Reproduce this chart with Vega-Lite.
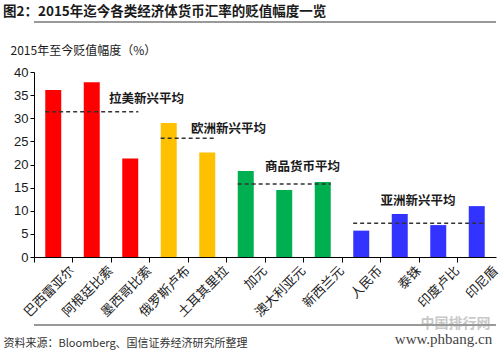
{
  "$schema": "https://vega.github.io/schema/vega-lite/v6.json",
  "width": 462,
  "height": 185,
  "autosize": {"type": "none"},
  "padding": {"left": 34, "top": 72, "right": 4, "bottom": 96},
  "background": "white",
  "title": {
    "text": "图2：2015年迄今各类经济体货币汇率的贬值幅度一览",
    "anchor": "start",
    "frame": "group",
    "dx": -31,
    "offset": 3,
    "font": "Noto Sans CJK SC",
    "fontSize": 13.5,
    "fontWeight": "bold",
    "color": "#1a1a1a"
  },
  "datasets": {
    "currencies": [
      {"name": "巴西雷亚尔", "value": 36.1, "group": "拉美新兴"},
      {"name": "阿根廷比索", "value": 37.8, "group": "拉美新兴"},
      {"name": "墨西哥比索", "value": 21.3, "group": "拉美新兴"},
      {"name": "俄罗斯卢布", "value": 29.0, "group": "欧洲新兴"},
      {"name": "土耳其里拉", "value": 22.6, "group": "欧洲新兴"},
      {"name": "加元", "value": 18.6, "group": "商品货币"},
      {"name": "澳大利亚元", "value": 14.5, "group": "商品货币"},
      {"name": "新西兰元", "value": 16.2, "group": "商品货币"},
      {"name": "人民币", "value": 5.7, "group": "亚洲新兴"},
      {"name": "泰铢", "value": 9.3, "group": "亚洲新兴"},
      {"name": "印度卢比", "value": 6.9, "group": "亚洲新兴"},
      {"name": "印尼盾", "value": 11.0, "group": "亚洲新兴"}
    ],
    "averages": [
      {"group": "拉美新兴", "label": "拉美新兴平均", "start": "巴西雷亚尔", "end": "墨西哥比索", "avg": 31.4, "label_at": "墨西哥比索"},
      {"group": "欧洲新兴", "label": "欧洲新兴平均", "start": "俄罗斯卢布", "end": "土耳其里拉", "avg": 25.7, "label_at": "土耳其里拉"},
      {"group": "商品货币", "label": "商品货币平均", "start": "加元", "end": "新西兰元", "avg": 15.8, "label_at": "澳大利亚元"},
      {"group": "亚洲新兴", "label": "亚洲新兴平均", "start": "人民币", "end": "印尼盾", "avg": 7.3, "label_at": "泰铢"}
    ],
    "separators": [
      {"where": "title underline", "y": 50.8},
      {"where": "footer line", "y": -14.7}
    ]
  },
  "layer": [
    {
      "data": {"name": "currencies"},
      "mark": {"type": "bar", "width": {"band": 0.415}},
      "encoding": {
        "x": {
          "field": "name",
          "type": "nominal",
          "sort": null,
          "scale": {
            "domain": ["巴西雷亚尔", "阿根廷比索", "墨西哥比索", "俄罗斯卢布", "土耳其里拉", "加元", "澳大利亚元", "新西兰元", "人民币", "泰铢", "印度卢比", "印尼盾"],
            "paddingInner": 0,
            "paddingOuter": 0
          },
          "axis": {
            "orient": "bottom",
            "title": "资料来源：Bloomberg、国信证券经济研究所整理",
            "titleX": -31,
            "titleY": 86,
            "titleAlign": "left",
            "titleAnchor": "start",
            "titleBaseline": "middle",
            "titleFont": "Noto Sans CJK SC",
            "titleFontSize": 11,
            "titleFontWeight": "normal",
            "titleColor": "#333333",
            "labelAngle": -45,
            "labelAlign": "right",
            "labelBaseline": "top",
            "labelFont": "Noto Sans CJK SC",
            "labelFontSize": 13,
            "labelColor": "#222222",
            "bandPosition": 0,
            "labelOffset": 15,
            "labelPadding": 2,
            "tickSize": 5,
            "tickColor": "#000000",
            "domainColor": "#000000",
            "grid": false
          }
        },
        "y": {
          "field": "value",
          "type": "quantitative",
          "scale": {"domain": [0, 40], "nice": false},
          "axis": {
            "title": "2015年至今贬值幅度（%）",
            "titleAngle": 0,
            "titleX": -24,
            "titleY": -22,
            "titleAlign": "left",
            "titleBaseline": "middle",
            "titleFont": "Noto Sans CJK SC",
            "titleFontSize": 12,
            "titleFontWeight": "normal",
            "titleColor": "#1a1a1a",
            "values": [0, 5, 10, 15, 20, 25, 30, 35, 40],
            "labelFont": "Liberation Sans",
            "labelFontSize": 13,
            "labelColor": "#1a1a1a",
            "tickSize": 4,
            "tickColor": "#000000",
            "domainColor": "#000000",
            "grid": false
          }
        },
        "color": {
          "field": "group",
          "type": "nominal",
          "scale": {
            "domain": ["拉美新兴", "欧洲新兴", "商品货币", "亚洲新兴"],
            "range": ["#FF0000", "#FFC000", "#00B050", "#3333FF"]
          },
          "legend": null
        }
      }
    },
    {
      "data": {"name": "separators"},
      "mark": {"type": "rule", "color": "#999999", "strokeWidth": 2, "clip": false},
      "encoding": {
        "y": {"field": "y", "type": "quantitative", "axis": null}
      }
    },
    {
      "data": {"name": "averages"},
      "mark": {"type": "rule", "strokeDash": [4, 3], "strokeWidth": 1.5, "color": "#333333"},
      "encoding": {
        "x": {"field": "start", "type": "nominal", "bandPosition": 0.29, "axis": null},
        "x2": {"field": "end", "bandPosition": 0.71},
        "y": {
          "field": "avg",
          "type": "quantitative",
          "axis": {
            "orient": "right",
            "title": "中国排行网",
            "titleAngle": 0,
            "titleX": -41,
            "titleY": 251,
            "titleAlign": "center",
            "titleBaseline": "middle",
            "titleFont": "Noto Sans CJK SC",
            "titleFontSize": 14,
            "titleFontWeight": "bold",
            "titleColor": "#c8c8c8",
            "labels": false,
            "ticks": false,
            "domain": false,
            "grid": false
          }
        }
      }
    },
    {
      "data": {"name": "averages"},
      "transform": [{"filter": "datum.group === '拉美新兴'"}],
      "mark": {"type": "text", "align": "left", "baseline": "middle", "dy": -13, "dx": -2, "font": "Noto Sans CJK SC", "fontSize": 12.5, "fontWeight": "bold", "color": "#1a1a1a"},
      "encoding": {
        "x": {"field": "label_at", "type": "nominal", "bandPosition": 0, "axis": null},
        "y": {
          "field": "avg",
          "type": "quantitative",
          "axis": {
            "orient": "right",
            "title": "www.phbang.cn",
            "titleAngle": 0,
            "titleX": -53,
            "titleY": 266,
            "titleAlign": "center",
            "titleBaseline": "middle",
            "titleFont": "Liberation Serif",
            "titleFontSize": 15,
            "titleFontWeight": "normal",
            "titleColor": "#444444",
            "labels": false,
            "ticks": false,
            "domain": false,
            "grid": false
          }
        },
        "text": {"field": "label"}
      }
    },
    {
      "data": {"name": "averages"},
      "transform": [{"filter": "datum.group === '欧洲新兴'"}],
      "mark": {"type": "text", "align": "left", "baseline": "middle", "dy": -9, "dx": 3, "font": "Noto Sans CJK SC", "fontSize": 12.5, "fontWeight": "bold", "color": "#1a1a1a"},
      "encoding": {
        "x": {"field": "label_at", "type": "nominal", "bandPosition": 0, "axis": null},
        "y": {"field": "avg", "type": "quantitative", "axis": null},
        "text": {"field": "label"}
      }
    },
    {
      "data": {"name": "averages"},
      "transform": [{"filter": "datum.group === '商品货币'"}],
      "mark": {"type": "text", "align": "left", "baseline": "middle", "dy": -17, "font": "Noto Sans CJK SC", "fontSize": 12.5, "fontWeight": "bold", "color": "#1a1a1a"},
      "encoding": {
        "x": {"field": "label_at", "type": "nominal", "bandPosition": 0, "axis": null},
        "y": {"field": "avg", "type": "quantitative", "axis": null},
        "text": {"field": "label"}
      }
    },
    {
      "data": {"name": "averages"},
      "transform": [{"filter": "datum.group === '亚洲新兴'"}],
      "mark": {"type": "text", "align": "left", "baseline": "middle", "dy": -22, "font": "Noto Sans CJK SC", "fontSize": 12.5, "fontWeight": "bold", "color": "#1a1a1a"},
      "encoding": {
        "x": {"field": "label_at", "type": "nominal", "bandPosition": 0, "axis": null},
        "y": {"field": "avg", "type": "quantitative", "axis": null},
        "text": {"field": "label"}
      }
    }
  ],
  "resolve": {"axis": {"x": "independent", "y": "independent"}},
  "config": {"view": {"stroke": null}}
}
